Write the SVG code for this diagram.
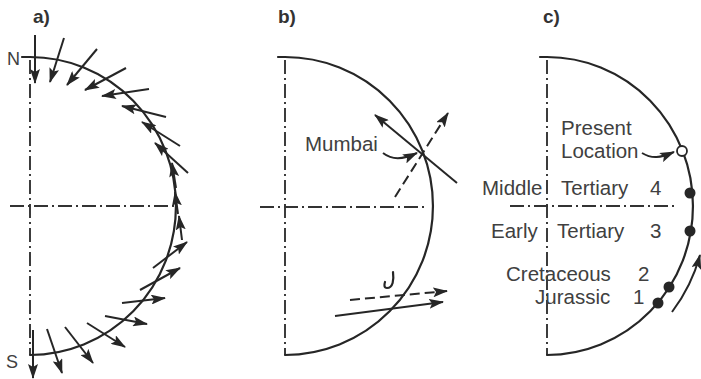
<svg xmlns="http://www.w3.org/2000/svg" width="701" height="379" viewBox="0 0 701 379">
<style>
.ln{fill:none;stroke:#262626;stroke-width:2.2;stroke-linecap:round}
.ar{fill:none;stroke:#262626;stroke-width:2;marker-end:url(#ah)}
.da{fill:none;stroke:#262626;stroke-width:2;stroke-dasharray:10 5;marker-end:url(#ah)}
.ax{fill:none;stroke:#333;stroke-width:1.9;stroke-dasharray:14 4 2 4}
.t{font-family:"Liberation Sans",Arial,sans-serif;font-size:20.5px;fill:#404040}
.lb{font-family:"Liberation Sans",Arial,sans-serif;font-size:19px;font-weight:bold;fill:#333}
.dot{fill:#262626}
</style>
<defs>
<marker id="ah" markerUnits="userSpaceOnUse" markerWidth="15" markerHeight="10" refX="14" refY="5" orient="auto">
<path d="M0,0 L15,5 L0,10 L3,5 Z" fill="#262626"/>
</marker>
</defs>

<g id="panel-a">
<text class="lb" x="33" y="23">a)</text>
<text class="t" x="7" y="65" style="font-size:18px">N</text>
<text class="t" x="6" y="368" style="font-size:18px">S</text>
<path class="ax" d="M30,60 L30,355"/>
<path class="ax" d="M10,206 L174,206"/>
<path class="ln" d="M22,57 L30,57 A146,149 0 0 1 30,355"/>
</g>

<g id="panel-b">
<text class="lb" x="278" y="23">b)</text>
<path class="ax" d="M285,60 L285,355"/>
<path class="ax" d="M260,207 L428,207"/>
<path class="ln" d="M278,57 L285,57 A148,149 0 0 1 285,355"/>
<text class="t" x="305" y="151">Mumbai</text>
<path class="ln" d="M393,272 C394,280 393,288 387,288 C384,288 384,285 385,282"/>
</g>

<g id="panel-c">
<text class="lb" x="543" y="23">c)</text>
<path class="ax" d="M547,60 L547,355"/>
<path class="ax" d="M510,206 L678,206"/>
<path class="ln" d="M540,57 L547,57 A146,149 0 0 1 547,355"/>
<text class="t" x="561" y="135">Present</text>
<text class="t" x="561" y="158">Location</text>
<text class="t" x="482" y="195">Middle</text>
<text class="t" x="561" y="195">Tertiary</text>
<text class="t" x="650" y="195">4</text>
<text class="t" x="491" y="238">Early</text>
<text class="t" x="557" y="238">Tertiary</text>
<text class="t" x="650" y="238">3</text>
<text class="t" x="506" y="281">Cretaceous</text>
<text class="t" x="638" y="281">2</text>
<text class="t" x="535" y="304">Jurassic</text>
<text class="t" x="633" y="304">1</text>
<circle cx="682" cy="151" r="5" fill="#fff" stroke="#262626" stroke-width="1.8"/>
<circle class="dot" cx="690" cy="193" r="5.5"/>
<circle class="dot" cx="690" cy="231" r="5.5"/>
<circle class="dot" cx="669" cy="287" r="5.5"/>
<circle class="dot" cx="658" cy="303" r="5.5"/>
</g>

<g id="connectors">
<path class="ar" d="M35,35 L35,83"/>
<path class="ar" d="M64,38 L50,82"/>
<path class="ar" d="M97,49 L67,85"/>
<path class="ar" d="M126,68 L85,90"/>
<path class="ar" d="M149,89 L102,96"/>
<path class="ar" d="M166,117 L122,106"/>
<path class="ar" d="M180,146 L142,122"/>
<path class="ar" d="M188,173 L155,143"/>
<path class="ar" d="M176,188 L172,163"/>
<path class="ar" d="M178,214 L175,192"/>
<path class="ar" d="M182,240 L179,216"/>
<path class="ar" d="M153,268 L187,242"/>
<path class="ar" d="M140,290 L180,268"/>
<path class="ar" d="M122,303 L165,298"/>
<path class="ar" d="M105,316 L147,324"/>
<path class="ar" d="M87,323 L125,347"/>
<path class="ar" d="M65,327 L93,363"/>
<path class="ar" d="M47,329 L62,373"/>
<path class="ar" d="M33,330 L33,378"/>
<path class="ar" d="M457,183 L375,115"/>
<path class="da" d="M395,197 L448,113"/>
<path class="ar" d="M383,153 C392,160 402,160 417,153"/>
<path class="da" d="M350,300 L447,291"/>
<path class="ar" d="M335,316 L443,302"/>
<path class="ar" d="M642,153 C652,159 660,158 674,152"/>
<path class="ar" d="M672,312 A162,165 0 0 0 700,255"/>
</g>
</svg>
